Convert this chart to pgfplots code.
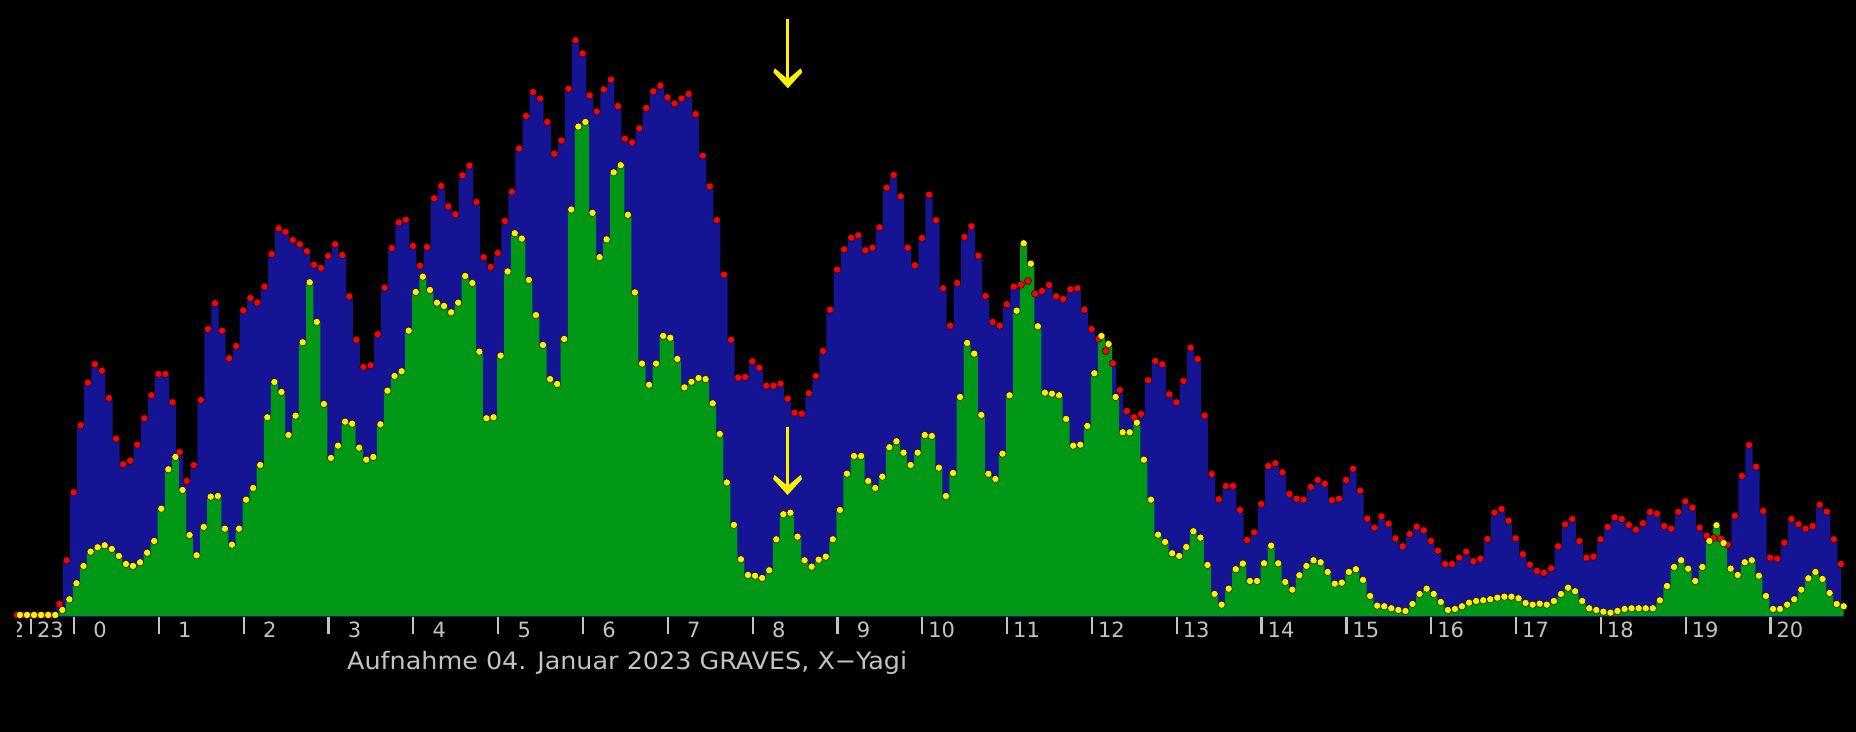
\documentclass[border=0pt]{standalone}
\usepackage{pgfplots}
\usepackage{pgfplotstable}
\pgfplotsset{compat=1.18}
\usepackage{fontspec}
\setmainfont{DejaVu Sans}
\newfontfamily\capfont[WordSpace=1.6]{DejaVu Sans}
\newfontfamily\labfont{DejaVu Sans}
\definecolor{bblue}{RGB}{20,20,148}
\definecolor{ggreen}{RGB}{0,152,20}
\definecolor{lgray}{RGB}{195,195,195}
\pgfplotstableread{
i red yel
0 1 1
1 1 1
2 1 1
3 1 1
4 1 1
5 1 1
6 12 6
7 55.7 16.7
8 123.7 32.7
9 190.7 50
10 233.3 64.3
11 251.7 68.7
12 245.3 70.7
13 218 67
14 177.3 60
15 151.7 52
16 155.3 50
17 171.3 53.7
18 197.7 63.3
19 220.7 75
20 242 107.3
21 242 146.7
22 213.7 159
23 164 126
24 135 81
25 151 60.7
26 216 89
27 287 119.3
28 312.7 120
29 285.3 87.3
30 257.7 71.3
31 270 87.3
32 305.7 116.3
33 318 128
34 313.5 151
35 329.3 198.7
36 362 234
37 387.7 224
38 384 181
39 376 200.3
40 371.7 273.7
41 364.7 333.7
42 351.3 294
43 348 212
44 360 158
45 371.7 170.3
46 361 194.3
47 319.7 192.3
48 276.3 168.3
49 249 156.3
50 250.7 159
51 281.7 191.7
52 328.3 225.3
53 368 240
54 393.7 244.7
55 396.3 285.3
56 370 324
57 350.3 339.3
58 369 326
59 417.7 313.3
60 430 310
61 409.7 303.7
62 401.7 313.3
63 440.7 340
64 450.3 333
65 414 264.3
66 358.7 197.7
67 349 198.7
68 363 260.3
69 395 344.5
70 424.3 382.7
71 467.5 377.4
72 500 336.1
73 523.9 300.9
74 517.5 271
75 494 236.9
76 462.2 232
77 475.4 277
78 527.3 406.5
79 575.8 489.4
80 562.5 494
81 520.5 403.1
82 504.6 358.8
83 526.6 376.6
84 536.4 443.6
85 509.9 450.8
86 477.3 401.2
87 473.5 323.6
88 487.6 252.4
89 508 231.2
90 524.7 252.4
91 530.3 280.1
92 518.6 278.2
93 512.5 257
94 517.5 228.6
95 522 234.2
96 501.9 238
97 460.3 236.9
98 429.6 212.7
99 395.9 182
100 341.4 133.5
101 276.3 91.1
102 238.4 56.7
103 239 41
104 254.7 40.2
105 248.3 38
106 230.3 45.7
107 230.3 76.7
108 232.3 101.7
109 217.3 103.3
110 203.3 79.3
111 202.3 55.7
112 222.7 49.3
113 240 56.3
114 265 59.3
115 306.3 76.7
116 346.3 106
117 366.7 142.3
118 378.3 160
119 380.7 160
120 365.7 135
121 368.3 128
122 388.7 139.3
123 428.3 168.7
124 441 174.7
125 419.7 163.3
126 368.3 151
127 350.7 163.3
128 378 181
129 421.3 180
130 395.7 148.3
131 327.7 120
132 290.3 143
133 333 219
134 379 273
135 389.7 262.3
136 360.3 201
137 320 142.2
138 294 137
139 290.3 162.3
140 311.7 220.7
141 329.3 305.3
142 331.3 372.7
143 335 352.3
144 322.3 289.7
145 325 223.3
146 331 222.3
147 319.7 220.7
148 317 197
149 326.7 170.3
150 327.7 171.3
151 306.3 190
152 287 242.7
153 277.3 280
154 265 272
155 252.7 219
156 226 183.7
157 205 183.7
158 198.7 193.3
159 202 156.3
160 235.7 116.3
161 255 81.3
162 251.7 74
163 221.7 62.7
164 213.7 60
165 235 69
166 268.3 84.7
167 257 78.3
168 200.3 51
169 142 22
170 116.7 11.3
171 130 27.3
172 130 46.8
173 106 52.4
174 76 35
175 83.7 35
176 112 52.7
177 150 70.3
178 152.7 52.7
179 143.7 34
180 122 26.3
181 117.3 40.7
182 116.3 50
183 129 55.7
184 136 53.7
185 132.3 44
186 115.7 32.3
187 117.3 33.3
188 136 44
189 147.3 46.7
190 125.3 36
191 97.3 20
192 88.3 10.3
193 99.7 9.7
194 92.3 7.7
195 77.7 6
196 69.7 5
197 82 12
198 89.3 22
199 85.7 27.3
200 75 22
201 65.3 14
202 52 6
203 52 7
204 58.3 9.7
205 64.3 13.3
206 54.7 15
207 57.3 15.7
208 77 16.7
209 103.3 18.3
210 107 19.3
211 95.3 19.3
212 77.7 17.7
213 61.7 13
214 51.3 11.3
215 45 12.3
216 43.2 11.3
217 47.7 15
218 69.7 22
219 91.7 28.3
220 97 24.7
221 75 15
222 58.3 7.7
223 59.3 6
224 76.7 4.3
225 89 3.3
226 98.7 5
227 97 7
228 91 7.7
229 86.3 7.7
230 92.7 7.7
231 104 7.7
232 102.3 15.7
233 90 30
234 87.3 49
235 104 55.7
236 114.7 47.3
237 108.3 35
238 88.3 49
239 80.3 75
240 78 90.7
241 77.3 73
242 71.3 47.3
243 100.3 41
244 140 53.7
245 171 55.7
246 149.3 40.3
247 105 20
248 58.3 7
249 57.3 7
250 73.3 11.3
251 97 16.7
252 91.7 26.3
253 87.3 37.7
254 90 44
255 111.3 37
256 104.3 23
257 76.7 12
258 52 9.7
}\data
\begin{document}
\begin{tikzpicture}
\begin{axis}[
  scale only axis, width=1856pt, height=732pt,
  xmin=-2.815, xmax=259.74, ymin=-116, ymax=616,
  axis line style={draw=none}, ticks=none,
  clip=true,
]
\fill[black] (rel axis cs:0,0) rectangle (rel axis cs:1,1);
% blue series with red dots
\addplot[const plot mark mid, fill=bblue, draw=none,
  mark=*, mark size=3.6pt, mark options={fill=red, draw=none}]
  table[x expr=\thisrow{i}-0.4, y=red] {\data} \closedcycle;
% green series with yellow dots
\addplot[const plot mark mid, fill=ggreen, draw=none,
  mark=*, mark size=3.6pt, mark options={fill=yellow, draw=none}]
  table[x=i, y=yel] {\data} \closedcycle;
% baseline
\draw[bblue, line width=1.2pt] (axis cs:-0.4,-0.6) -- (axis cs:258,-0.6);
% hour ticks and labels
\pgfplotsinvokeforeach{0,...,20}{
  \draw[lgray, line width=2.2pt] (axis cs:{7.65+12*#1},-1) -- (axis cs:{7.65+12*#1},-18);
  \node[anchor=base east, inner sep=0pt, text=lgray, font=\labfont\fontsize{21}{21}\selectfont, xshift=33pt]
    at (axis cs:{7.65+12*#1},-22) {#1};
}
\draw[lgray, line width=2.2pt] (axis cs:1.57,-1) -- (axis cs:1.57,-18);
\node[anchor=base east, inner sep=0pt, text=lgray, font=\labfont\fontsize{21}{21}\selectfont, xshift=33pt]
  at (axis cs:1.57,-22) {23};
\begin{scope}
\clip (axis cs:-0.3,-60) rectangle (axis cs:1.2,-1);
\node[anchor=base east, inner sep=0pt, text=lgray, font=\labfont\fontsize{21}{21}\selectfont]
  at (axis cs:0.65,-22) {22};
\end{scope}
% caption
\node[anchor=base west, inner sep=0pt, text=lgray, xscale=1.06, font=\capfont\fontsize{24}{24}\selectfont]
  at (axis cs:46.27,-53.3) {Aufnahme 04. Januar 2023 GRAVES, X−Yagi};
% arrows
\draw[yellow, line width=3.3pt] (axis cs:108.63,596.7) -- (axis cs:108.63,536);
\fill[yellow] (axis cs:108.63,527.7) -- ++(-14.5pt,16pt) -- ++(1.5pt,4pt) -- ++(13pt,-11pt) -- ++(13pt,11pt) -- ++(1.5pt,-4pt) -- cycle;
\draw[yellow, line width=3.3pt] (axis cs:108.6,189.3) -- (axis cs:108.6,129);
\fill[yellow] (axis cs:108.6,121) -- ++(-14.5pt,16pt) -- ++(1.5pt,4pt) -- ++(13pt,-11pt) -- ++(13pt,11pt) -- ++(1.5pt,-4pt) -- cycle;
\end{axis}
\end{tikzpicture}
\end{document}
